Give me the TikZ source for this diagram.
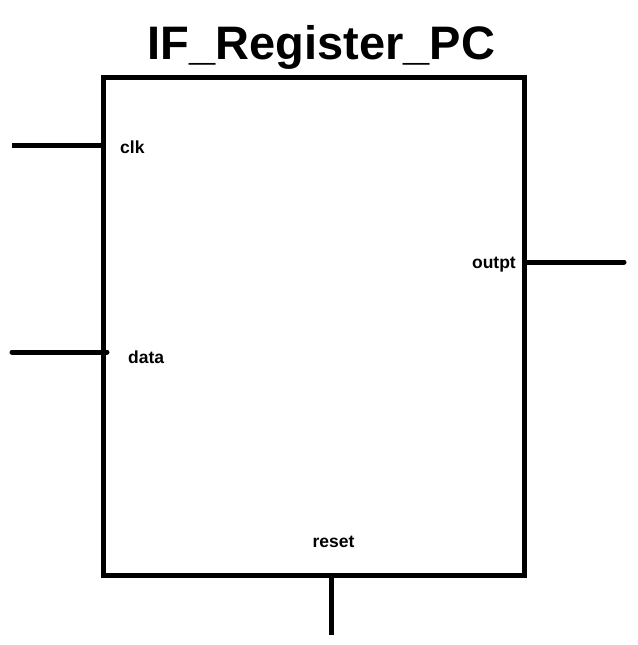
\documentclass[tikz,border=0pt]{standalone}
\usepackage{fontspec}
\setmainfont{Liberation Sans}
\begin{document}
\begin{tikzpicture}[x=1pt,y=-1pt,
  wire/.style={line width=5pt},
  lbl/.style={font=\fontsize{17.5}{20}\selectfont\bfseries, inner sep=0pt},
  blockbox/.style={draw, line width=5pt, minimum width=421pt, minimum height=498pt, inner sep=0pt}]
\useasboundingbox (0,0) rectangle (637,645);
\node[blockbox] (box) at (313.5,326) {};
\node[font=\fontsize{47}{56}\selectfont\bfseries, inner sep=0pt, anchor=base] (title) at (321.5,59) {IF\_Register\_PC};
\node[lbl, anchor=base west] (clk) at (120,153) {clk};
\node[lbl, anchor=base west] (data) at (128,363) {data};
\node[lbl, anchor=base east] (outpt) at (516,268) {outpt};
\node[lbl, anchor=base] (reset) at (333.5,547) {reset};
\coordinate (clkin) at (12,145);
\coordinate (datain) at (12,352);
\coordinate (dataend) at (107,352);
\coordinate (outend) at (624,262);
\coordinate (resetend) at (331,635);
\draw[wire] (clkin) -- (clkin -| box.west);
\draw[wire, line cap=round] (datain) -- (dataend);
\draw[wire, line cap=round] (outend -| box.east) -- (outend);
\draw[wire] (resetend |- box.south) -- (resetend);
\end{tikzpicture}
\end{document}
